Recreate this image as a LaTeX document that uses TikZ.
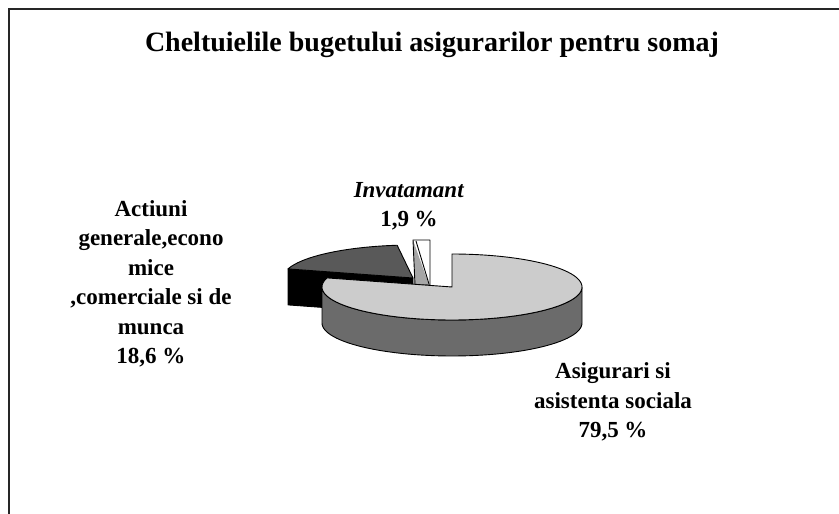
\documentclass[tikz,border=0pt]{standalone}
\usepackage{fontspec}
\setmainfont{Liberation Serif}
\begin{document}
\begin{tikzpicture}[x=1pt, y=-1pt,
    frame/.style={draw=black!85, line width=1.2pt},
    lbl/.style={align=center, font=\bfseries\fontsize{23}{29.5}\selectfont},
    pieedge/.style={draw=black, line width=0.9pt, line join=round},
  ]

\def\rx{130}
\def\ry{33}
\def\depth{36}

  % Page and frame
  \useasboundingbox (0,0) rectangle (839,514);
  \draw[frame] (9,514) -- (9,9) -- (839,9);

  % Title
  \node[font=\bfseries\fontsize{28}{34}\selectfont, anchor=base] (title) at (432,52) {Cheltuielile bugetului asigurarilor pentru somaj};

  % Actiuni slice (exploded)
  \def\ax{413}
  \def\ay{278}
  \filldraw[pieedge, fill=black] (\ax,\ay) -- ({\ax+\rx*cos(164)},{\ay-\ry*sin(164)}) -- ++(0,\depth) -- (\ax,\ay+\depth) -- cycle;
  \filldraw[pieedge, fill=black!65] (\ax,\ay) -- plot[domain=97:164, samples=30] ({\ax+\rx*cos(\x)},{\ay-\ry*sin(\x)}) -- cycle;

  % Invatamant slice
  \fill[black!35] (413,240) -- (415,285) -- (429,285) -- cycle;
  \draw[pieedge] (413,240) -- (430,240) -- (430,285) -- (415,285) -- cycle;
  \draw[pieedge] (416,241) -- (429,284);

  % Asigurari slice
  \def\cx{452}
  \def\cy{287}
  \filldraw[pieedge, fill=black!58] plot[domain=-180:0, samples=60] ({\cx+\rx*cos(\x)},{\cy-\ry*sin(\x)+\depth}) -- plot[domain=0:-180, samples=60] ({\cx+\rx*cos(\x)},{\cy-\ry*sin(\x)}) -- cycle;
  \filldraw[pieedge, fill=black!20] (\cx,\cy) -- plot[domain=-196:90, samples=100] ({\cx+\rx*cos(\x)},{\cy-\ry*sin(\x)}) -- cycle;

  % Labels
  \node[lbl] (actiuni) at (151,284) {Actiuni\\generale,econo\\mice\\,comerciale si de\\munca\\18,6 \%};
  \node[lbl] (invatamant) at (409,206) {\textit{Invatamant}\\1,9 \%};
  \node[lbl] (asigurari) at (613,402) {Asigurari si\\asistenta sociala\\79,5 \%};

\end{tikzpicture}
\end{document}
